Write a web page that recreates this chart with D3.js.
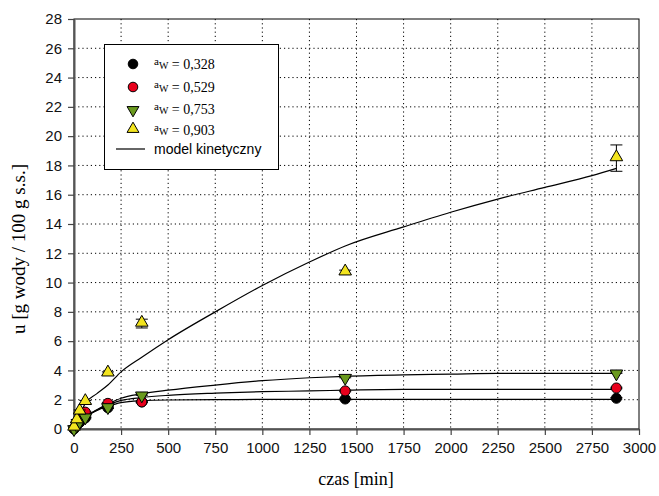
<!DOCTYPE html>
<html>
<head>
<meta charset="utf-8">
<script src="https://cdn.jsdelivr.net/npm/d3@7"></script>
<style>
  body { margin: 0; background: #fff; }
</style>
</head>
<body>
<div id="chart"></div>
<script>
// czasy pomiaru [min]
var times = [0, 15, 30, 60, 180, 360, 1440, 2880]

var series = ['0,328', '0,529', '0,753', '0,903']
var u328 = [0, 0.25, 0.45, 0.75, 1.45, 1.85, 2.05, 2.1]
var u529 = [0.05, 0.4, 0.7, 1.15, 1.75, 1.85, 2.6, 2.8]
var u753 = [0.05, 0.3, 0.55, 0.85, 1.55, 2.35, 3.55, 3.85]
var u903 = [0.1, 0.6, 1.2, 1.85, 3.8, 7.2, 10.7, 18.5]
var err328 = [0, 0.05, 0.05, 0.05, 0.05, 0.05, 0.05, 0.05]
var err529 = [0, 0.05, 0.05, 0.05, 0.05, 0.05, 0.05, 0.05]
var err753 = [0, 0.05, 0.05, 0.05, 0.05, 0.05, 0.05, 0.05]
var err903 = [0, 0.05, 0.1, 0.1, 0.1, 0.3, 0.15, 0.9]

// model kinetyczny
var modelT = [0, 30, 60, 120, 180, 250, 360, 500, 750, 1000, 1250, 1440, 1750, 2000, 2250, 2500, 2750, 2880]
var m328 = [0, 0.45, 0.8, 1.25, 1.55, 1.8, 1.93, 1.98, 2.0, 2.02, 2.03, 2.03, 2.03, 2.03, 2.03, 2.03, 2.03, 2.03]
var m529 = [0, 0.45, 0.8, 1.3, 1.65, 1.95, 2.15, 2.3, 2.45, 2.55, 2.6, 2.65, 2.7, 2.7, 2.7, 2.7, 2.7, 2.7]
var m753 = [0, 0.45, 0.8, 1.3, 1.7, 2.1, 2.4, 2.65, 3.0, 3.3, 3.5, 3.6, 3.7, 3.75, 3.8, 3.8, 3.8, 3.8]
var m903 = [0, 0.9, 1.75, 2.4, 3.0, 3.9, 4.9, 6.1, 8.0, 9.8, 11.4, 12.5, 13.8, 14.8, 15.7, 16.5, 17.3, 17.8]

var xTicks = [0, 250, 500, 750, 1000, 1250, 1500, 1750, 2000, 2250, 2500, 2750, 3000]
var yTicks = [0, 2, 4, 6, 8, 10, 12, 14, 16, 18, 20, 22, 24, 26, 28]

var colors = ['#000000', '#e8001c', '#6a9a1e', '#f2e41e']
var shapes = ['circle', 'circle', 'down', 'up']

var width = 659, height = 496,
    pLeft = 74, pRight = 639, pTop = 19, pBottom = 429

var x = d3.scaleLinear().domain([0, 3000]).range([pLeft, pRight])
var y = d3.scaleLinear().domain([0, 28]).range([pBottom, pTop])

var svg = d3.select('#chart').append('svg')
    .attr('width', width)
    .attr('height', height)

// siatka
svg.append('g').selectAll('line')
    .data(xTicks.slice(1, -1))
    .enter().append('line')
    .attr('x1', d => x(d)).attr('x2', d => x(d))
    .attr('y1', pTop).attr('y2', pBottom)
    .attr('stroke', '#000').attr('stroke-width', 1)
    .attr('stroke-dasharray', '1.2,3')
svg.append('g').selectAll('line')
    .data(yTicks.slice(1, -1))
    .enter().append('line')
    .attr('y1', d => y(d)).attr('y2', d => y(d))
    .attr('x1', pLeft).attr('x2', pRight)
    .attr('stroke', '#000').attr('stroke-width', 1)
    .attr('stroke-dasharray', '1.2,3')

// ramka
svg.append('rect')
    .attr('x', pLeft).attr('y', pTop)
    .attr('width', pRight - pLeft).attr('height', pBottom - pTop)
    .attr('fill', 'none').attr('stroke', '#000').attr('stroke-width', 1)

var xAxis = svg.append('g')
    .attr('transform', 'translate(0,' + pBottom + ')')
    .call(d3.axisBottom(x).tickValues(xTicks).tickFormat(d3.format('d'))
        .tickSize(6).tickPadding(7).tickSizeOuter(0))
var yAxis = svg.append('g')
    .attr('transform', 'translate(' + pLeft + ',0)')
    .call(d3.axisLeft(y).tickValues(yTicks).tickFormat(d3.format('d'))
        .tickSize(6).tickPadding(6).tickSizeOuter(0))

;[xAxis, yAxis].forEach(function(a) {
    a.select('.domain').attr('stroke', '#555').attr('stroke-width', 2)
    a.selectAll('.tick line').attr('stroke', '#444').attr('stroke-width', 1.2)
    a.selectAll('.tick text')
        .attr('fill', '#111')
        .style('font-family', '"Liberation Sans", Arial, sans-serif')
        .style('font-size', '15px')
})

svg.append('text')
    .attr('x', 356).attr('y', 485)
    .attr('text-anchor', 'middle')
    .style('font-family', '"Liberation Serif", "Times New Roman", serif')
    .style('font-size', '18px')
    .text('czas [min]')

svg.append('text')
    .attr('transform', 'translate(25,' + 249 + ') rotate(-90)')
    .attr('text-anchor', 'middle')
    .style('font-family', '"Liberation Serif", "Times New Roman", serif')
    .style('font-size', '19px')
    .text('u [g wody / 100 g s.s.]')

// krzywe modelu
var line = d3.line()
    .x(d => x(d[0])).y(d => y(d[1]))
    .curve(d3.curveMonotoneX)

var models = [m328, m529, m753, m903]
models.forEach(function(m) {
    svg.append('path')
        .datum(modelT.map((t, i) => [t, m[i]]))
        .attr('d', line)
        .attr('fill', 'none')
        .attr('stroke', '#000')
        .attr('stroke-width', 1.2)
})

function symbolPath(shape, size) {
    if (shape === 'circle') return d3.symbol().type(d3.symbolCircle).size(size)()
    return d3.symbol().type(d3.symbolTriangle).size(size * 0.85)()
}

var values = [u328, u529, u753, u903]
var errors = [err328, err529, err753, err903]

values.forEach(function(vals, s) {
    var pts = times.map((t, i) => ({t: t, u: vals[i], e: errors[s][i]}))
    var g = svg.append('g')
    var eb = g.selectAll('.eb').data(pts.filter(d => d.e > 0)).enter().append('g')
    eb.append('line')
        .attr('x1', d => x(d.t)).attr('x2', d => x(d.t))
        .attr('y1', d => y(d.u - d.e)).attr('y2', d => y(d.u + d.e))
        .attr('stroke', '#000')
    eb.append('line')
        .attr('x1', d => x(d.t) - 6).attr('x2', d => x(d.t) + 6)
        .attr('y1', d => y(d.u + d.e)).attr('y2', d => y(d.u + d.e))
        .attr('stroke', '#000')
    eb.append('line')
        .attr('x1', d => x(d.t) - 6).attr('x2', d => x(d.t) + 6)
        .attr('y1', d => y(d.u - d.e)).attr('y2', d => y(d.u - d.e))
        .attr('stroke', '#000')

    g.selectAll('.pt').data(pts).enter().append('path')
        .attr('d', symbolPath(shapes[s], 80))
        .attr('transform', function(d) {
            var r = shapes[s] === 'down' ? ' rotate(180)' : ''
            var dy = shapes[s] === 'up' ? -1 : (shapes[s] === 'down' ? 1 : 0)
            return 'translate(' + x(d.t) + ',' + (y(d.u) + dy) + ')' + r
        })
        .attr('fill', colors[s])
        .attr('stroke', '#000')
        .attr('stroke-width', 1)
})

// legenda
var leg = svg.append('g')
leg.append('rect')
    .attr('x', 104.5).attr('y', 44.5)
    .attr('width', 174).attr('height', 125)
    .attr('fill', '#fff').attr('stroke', '#000').attr('stroke-width', 1)

var rowsY = [64, 87, 109, 130]
series.forEach(function(name, s) {
    var sh = shapes[s]
    var dy = sh === 'up' ? -1 : (sh === 'down' ? 1 : 0)
    leg.append('path')
        .attr('d', symbolPath(sh, 72))
        .attr('transform', 'translate(133,' + (rowsY[s] + dy) + ')' + (sh === 'down' ? ' rotate(180)' : ''))
        .attr('fill', colors[s])
        .attr('stroke', '#000')
    var t = leg.append('text')
        .attr('x', 154).attr('y', rowsY[s] + 5)
        .style('font-family', '"Liberation Serif", "Times New Roman", serif')
    t.append('tspan').style('font-size', '11px').attr('dy', -4).text('a')
    t.append('tspan').style('font-size', '10px').attr('dy', 4).text('W')
    t.append('tspan').style('font-size', '14px').text(' = ' + name)
})
leg.append('line')
    .attr('x1', 116).attr('x2', 145)
    .attr('y1', 149).attr('y2', 149)
    .attr('stroke', '#000').attr('stroke-width', 1.2)
leg.append('text')
    .attr('x', 154).attr('y', 154)
    .style('font-family', '"Liberation Sans", Arial, sans-serif')
    .style('font-size', '14px')
    .text('model kinetyczny')
</script>
</body>
</html>
